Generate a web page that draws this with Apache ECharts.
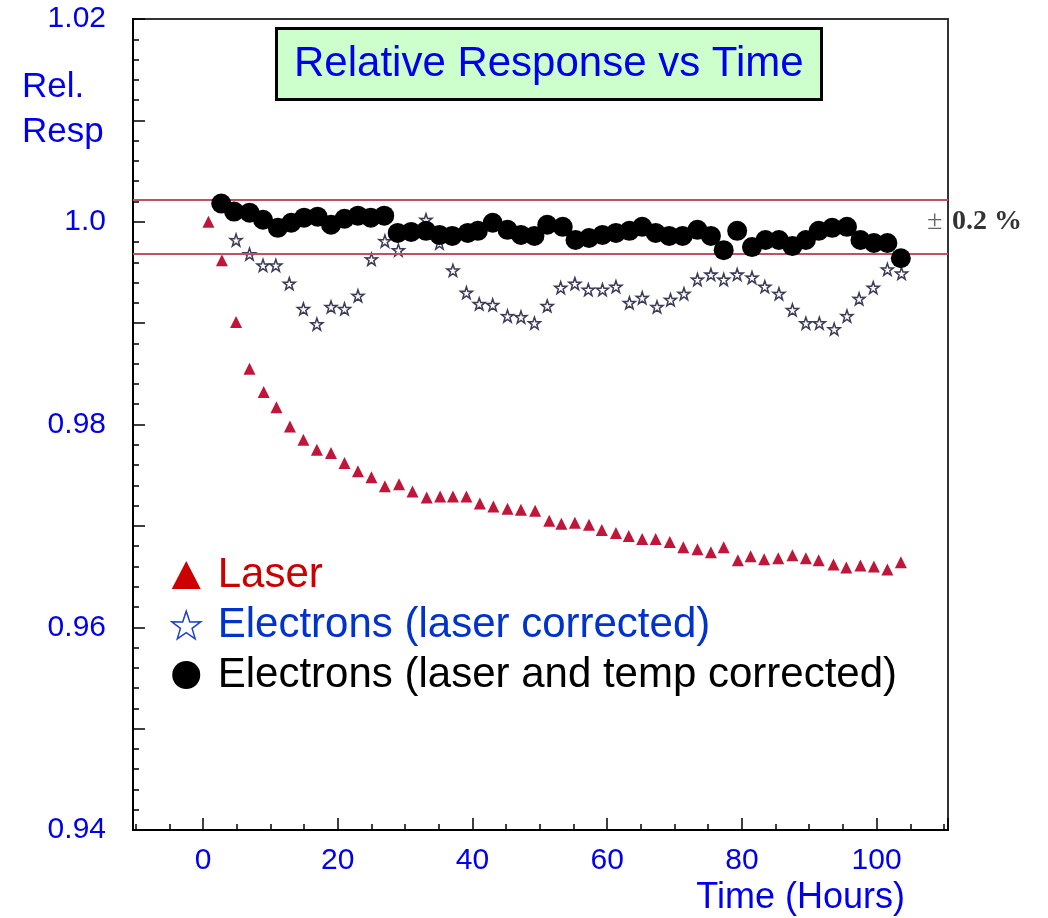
<!DOCTYPE html>
<html>
<head>
<meta charset="utf-8">
<script src="https://cdn.jsdelivr.net/npm/echarts@6/dist/echarts.min.js"></script>
<style>
html,body{margin:0;padding:0;background:#fff;}
#chart{width:1048px;height:918px;}
</style>
</head>
<body>
<div id="chart"></div>
<script>
// ---------- DATA ----------
const laserT = [0.8,2.8,4.9,6.9,9.0,10.9,12.9,14.9,16.9,19.0,21.0,23.0,25.0,27.0,29.1,31.1,33.2,35.2,37.1,39.1,41.1,43.1,45.2,47.2,49.3,51.4,53.2,55.2,57.3,59.2,61.3,63.2,65.2,67.2,69.3,71.3,73.4,75.4,77.3,79.4,81.3,83.3,85.4,87.5,89.5,91.4,93.6,95.5,97.6,99.6,101.6,103.6];
const laserV = [1.0000,0.9962,0.9901,0.9855,0.9832,0.9817,0.9798,0.9785,0.9775,0.9772,0.9762,0.9754,0.9748,0.9739,0.9741,0.9734,0.9728,0.9729,0.9729,0.9729,0.9722,0.9719,0.9717,0.9716,0.9715,0.9705,0.9702,0.9703,0.9701,0.9696,0.9693,0.9690,0.9687,0.9687,0.9684,0.9679,0.9677,0.9674,0.9679,0.9666,0.9670,0.9667,0.9668,0.9671,0.9668,0.9666,0.9662,0.9659,0.9661,0.9660,0.9657,0.9664];

const elecT = [4.9,6.9,8.9,10.8,12.8,14.9,16.9,19.0,21.0,23.0,25.0,27.0,29.0,31.0,33.1,35.1,37.1,39.1,41.0,43.0,45.2,47.2,49.2,51.1,53.1,55.2,57.2,59.3,61.3,63.3,65.2,67.4,69.4,71.4,73.4,75.4,77.3,79.3,81.5,83.4,85.5,87.5,89.5,91.5,93.7,95.6,97.4,99.5,101.6,103.7];
const elecV = [0.9982,0.9968,0.9957,0.9957,0.9939,0.9914,0.9899,0.9916,0.9914,0.9927,0.9963,0.9981,0.9972,0.9990,1.0002,0.9979,0.9952,0.9930,0.9919,0.9918,0.9907,0.9906,0.9900,0.9917,0.9935,0.9939,0.9933,0.9933,0.9936,0.9920,0.9925,0.9916,0.9923,0.9929,0.9943,0.9948,0.9943,0.9948,0.9945,0.9936,0.9929,0.9913,0.9900,0.9900,0.9894,0.9907,0.9924,0.9935,0.9953,0.9949];

const tempT = [2.7,4.6,6.9,8.9,11.1,13.1,15.0,17.0,19.0,21.0,23.0,24.9,26.9,28.9,30.9,33.1,35.1,37.0,39.3,40.8,43.0,45.2,47.2,49.2,51.1,53.4,55.3,57.3,59.3,61.3,63.3,65.2,67.2,69.2,71.2,73.4,75.4,77.3,79.3,81.5,83.5,85.5,87.5,89.5,91.4,93.4,95.6,97.6,99.6,101.6,103.6];
const tempV = [1.0018,1.0010,1.0009,1.0002,0.9994,0.9999,1.0004,1.0005,0.9997,1.0003,1.0006,1.0004,1.0006,0.9989,0.9990,0.9991,0.9987,0.9986,0.9989,0.9991,0.9999,0.9992,0.9987,0.9986,0.9997,0.9995,0.9982,0.9984,0.9987,0.9989,0.9991,0.9995,0.9989,0.9986,0.9986,0.9992,0.9986,0.9972,0.9991,0.9975,0.9982,0.9982,0.9976,0.9982,0.9991,0.9994,0.9995,0.9982,0.9979,0.9979,0.9964];

const bandLimits = [1.0022, 0.9968];
const xRange = [-10.4, 110.6];
const yRange = [0.94, 1.02];
const yTickValues = [0.94, 0.96, 0.98, 1.00, 1.02];
const yTickLabels = ['0.94', '0.96', '0.98', '1.0', '1.02'];
const seriesNames = ['Laser', 'Electrons (laser corrected)', 'Electrons (laser and temp corrected)'];

// ---------- CHART ----------
const FONT = "'Liberation Sans', Arial, sans-serif";
const starPath = 'path://M50,0 L61.8,35.1 L97.6,34.5 L69.1,56.4 L79.4,90.5 L50,70 L20.6,90.5 L30.9,56.4 L2.4,34.5 L38.2,35.1 Z';
const pairs = (t, v) => t.map((x, i) => [x, v[i]]);

const chart = echarts.init(document.getElementById('chart'), null, {renderer: 'canvas'});
chart.setOption({
  animation: false,
  backgroundColor: '#ffffff',
  textStyle: {fontFamily: FONT},
  title: {
    text: 'Relative Response vs Time',
    left: 276, top: 28,
    backgroundColor: '#ccffcc',
    borderColor: '#000000',
    borderWidth: 3,
    padding: [11, 18, 11, 18],
    textStyle: {fontSize: 42, fontWeight: 'normal', color: '#0000ee', fontFamily: FONT, lineHeight: 50}
  },
  grid: {left: 133, right: 100, top: 19, bottom: 88, show: true, borderColor: '#333', borderWidth: 2, backgroundColor: 'transparent'},
  xAxis: {
    type: 'value', min: xRange[0], max: xRange[1], splitNumber: 6,
    axisLine: {show: true, onZero: false, lineStyle: {color: '#000', width: 2}},
    axisTick: {show: true, inside: true, length: 12, lineStyle: {color: '#000', width: 1.5}},
    minorTick: {show: true, splitNumber: 4, length: 6, lineStyle: {color: '#000', width: 1.5}},
    axisLabel: {fontSize: 30, color: '#0000ee', margin: 16, fontFamily: FONT, showMinLabel: false, showMaxLabel: false},
    splitLine: {show: false}
  },
  yAxis: {
    type: 'value', min: yRange[0], max: yRange[1], interval: 0.01,
    axisLine: {show: true, onZero: false, lineStyle: {color: '#000', width: 2}},
    axisTick: {show: true, inside: true, length: 12, lineStyle: {color: '#000', width: 1.5}},
    minorTick: {show: true, splitNumber: 5, length: 6, lineStyle: {color: '#000', width: 1.5}},
    axisLabel: {
      fontSize: 30, color: '#0000ee', margin: 27, fontFamily: FONT,
      formatter: function (v) {
        for (let i = 0; i < yTickValues.length; i++) {
          if (Math.abs(v - yTickValues[i]) < 1e-6) return yTickLabels[i];
        }
        return '';
      }
    },
    splitLine: {show: false}
  },
  legend: {
    orient: 'vertical', left: 166, top: 549,
    itemWidth: 29, itemHeight: 28, itemGap: 8,
    textStyle: {fontSize: 42, fontFamily: FONT, lineHeight: 42, padding: [0, 0, 0, 12]},
    selectedMode: false,
    data: [
      {name: seriesNames[0], icon: 'triangle', itemStyle: {color: '#cc0000', opacity: 1}, textStyle: {color: '#cc0000'}},
      {name: seriesNames[1], icon: starPath, itemStyle: {color: '#ffffff', borderColor: '#1f3fcf', borderWidth: 1.5, opacity: 1}, textStyle: {color: '#0033cc'}},
      {name: seriesNames[2], icon: 'circle', itemStyle: {color: '#000000', opacity: 1}, textStyle: {color: '#000000'}}
    ]
  },
  series: [
    {
      name: seriesNames[0], type: 'scatter', data: pairs(laserT, laserV),
      symbol: 'triangle', symbolSize: 12,
      itemStyle: {color: '#c0163a', opacity: 1},
      markLine: {
        silent: true, symbol: 'none', animation: false,
        label: {show: false},
        lineStyle: {color: '#c05066', width: 2, type: 'solid'},
        data: bandLimits.map(v => [{coord: [xRange[0], v]}, {coord: [xRange[1], v]}])
      }
    },
    {
      name: seriesNames[1], type: 'scatter', data: pairs(elecT, elecV),
      symbol: starPath, symbolSize: 12,
      itemStyle: {color: '#ffffff', borderColor: '#3c3c58', borderWidth: 1.5, opacity: 1}
    },
    {
      name: seriesNames[2], type: 'scatter', data: pairs(tempT, tempV),
      symbol: 'circle', symbolSize: 20,
      itemStyle: {color: '#000000', opacity: 1},
      z: 5
    }
  ],
  graphic: [
    {type: 'text', left: 22, top: 65, style: {text: 'Rel.\nResp', fontSize: 35, lineHeight: 45, fill: '#0000ee', fontFamily: FONT}},
    {type: 'text', x: 905, y: 898, style: {text: 'Time (Hours)', fontSize: 36, fill: '#0000ee', fontFamily: FONT, align: 'right', verticalAlign: 'middle'}},
    {type: 'text', x: 927, y: 222, style: {text: '±', fontSize: 28, fill: '#666', fontFamily: "'Liberation Serif', serif", verticalAlign: 'middle'}},
    {type: 'text', x: 952, y: 222, style: {text: '0.2 %', fontSize: 28, fontWeight: 'bold', fill: '#333', fontFamily: "'Liberation Serif', serif", verticalAlign: 'middle'}}
  ]
});
</script>
</body>
</html>
